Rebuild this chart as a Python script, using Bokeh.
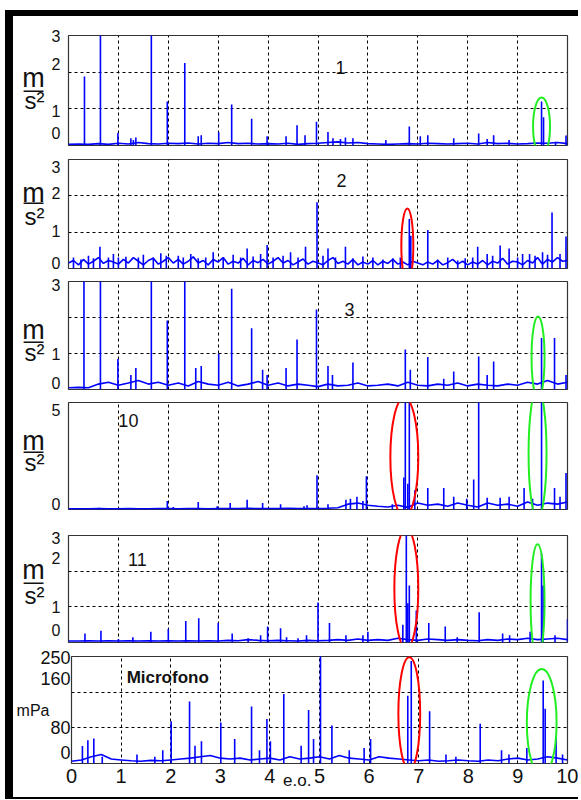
import numpy as np
from bokeh.plotting import figure
from bokeh.models import Range1d, FixedTicker, Label, Div, ColumnDataSource, LinearAxis
from bokeh.layouts import column, row
from bokeh.embed import file_html
from bokeh.resources import INLINE
from bokeh.core.properties import value

# ---------------- data ----------------
x_ticks = [0, 1, 2, 3, 4, 5, 6, 7, 8, 9, 10]
x_grid = [1, 2, 3, 4, 5, 6, 7, 8, 9]
x_title_pos = [4.55]
x_title_lab = ["e.o."]

# panel 1
p1_x = [0.32, 0.64, 0.99, 1.25, 1.3, 1.35, 1.66, 1.98, 2.33, 2.6, 2.66, 3.01, 3.27, 3.67, 3.98, 4.36,
        4.58, 4.74, 4.97, 5.2, 5.3, 5.45, 5.55, 5.7, 6.36, 6.83, 7.05, 7.2, 7.72, 8.22, 8.39, 8.52,
        8.83, 9.48, 9.52, 9.76, 9.97]
p1_y = [1.88, 3.5, 0.34, 0.2, 0.15, 0.22, 3.5, 1.2, 2.25, 0.25, 0.28, 0.36, 1.12, 0.73, 0.25, 0.25,
        0.55, 0.28, 0.65, 0.37, 0.2, 0.18, 0.22, 0.2, 0.15, 0.52, 0.25, 0.28, 0.2, 0.33, 0.18, 0.28,
        0.15, 1.2, 0.77, 0.1, 0.27]
p1_noise = [0.03, 0.04, 0.03, 0.05, 0.03, 0.06, 0.04, 0.08, 0.05, 0.04,
            0.06, 0.05, 0.07, 0.04, 0.06, 0.05, 0.08, 0.05, 0.06, 0.04,
            0.05, 0.04, 0.06, 0.03, 0.05, 0.06, 0.08, 0.1, 0.07, 0.08,
            0.05, 0.04, 0.03, 0.04, 0.05, 0.04, 0.06, 0.05, 0.04, 0.05,
            0.06, 0.04, 0.08, 0.05, 0.06, 0.04, 0.05, 0.07, 0.06, 0.08, 0.05]
p1_tick_val = [0.33, 0.95, 2.23, 3.0]
p1_tick_lab = ["0", "1", "2", "3"]

# panel 2
p2_x = [0.63, 1.0, 1.96, 2.6, 3.58, 3.98, 4.75, 4.98, 5.2, 5.55, 6.83, 6.86, 7.2, 8.2, 8.39, 8.65,
        8.83, 9.24, 9.69, 9.97,
        0.1, 0.25, 0.4, 0.5, 0.8, 0.9, 1.15, 1.4, 1.5, 1.7, 1.85, 2.2, 2.3, 2.45, 2.75, 2.9,
        3.1, 3.3, 3.45, 3.7, 3.85, 4.1, 4.3, 4.45, 4.6, 5.1, 5.35, 5.7, 5.9, 6.1, 6.3, 6.5,
        6.65, 7.4, 7.6, 7.8, 7.95, 8.1, 8.5, 9.0, 9.1, 9.35, 9.5, 9.6, 9.85]
p2_y = [0.6, 0.3, 0.35, 0.28, 0.55, 0.65, 0.6, 1.82, 0.55, 0.6, 1.36, 0.9, 1.06, 0.6, 0.4, 0.63,
        0.55, 0.4, 1.54, 0.88,
        0.3, 0.25, 0.35, 0.28, 0.3, 0.4, 0.32, 0.3, 0.38, 0.3, 0.42, 0.35, 0.3, 0.4, 0.3, 0.45,
        0.3, 0.38, 0.3, 0.33, 0.4, 0.3, 0.35, 0.45, 0.3, 0.35, 0.3, 0.28, 0.33, 0.3, 0.25, 0.28,
        0.3, 0.25, 0.3, 0.22, 0.28, 0.3, 0.35, 0.3, 0.4, 0.35, 0.45, 0.38, 0.4]
p2_noise = [0.15, 0.22, 0.1, 0.25, 0.12, 0.2, 0.3, 0.14, 0.22, 0.18,
            0.12, 0.25, 0.15, 0.3, 0.2, 0.1, 0.22, 0.28, 0.12, 0.2,
            0.3, 0.15, 0.25, 0.12, 0.2, 0.32, 0.15, 0.22, 0.1, 0.25,
            0.18, 0.3, 0.12, 0.2, 0.15, 0.28, 0.1, 0.22, 0.16, 0.25,
            0.12, 0.2, 0.3, 0.15, 0.22, 0.1, 0.18, 0.26, 0.12, 0.2,
            0.15, 0.1, 0.22, 0.3, 0.14, 0.2, 0.12, 0.25, 0.1, 0.18,
            0.12, 0.22, 0.1, 0.2, 0.14, 0.25, 0.12, 0.18, 0.1, 0.2,
            0.15, 0.1, 0.18, 0.12, 0.22, 0.1, 0.16, 0.25, 0.12, 0.2,
            0.1, 0.18, 0.12, 0.22, 0.1, 0.2, 0.15, 0.28, 0.12, 0.2,
            0.18, 0.1, 0.22, 0.15, 0.3, 0.12, 0.25, 0.18, 0.3, 0.2, 0.22]
p2_tick_val = [0.14, 1.02, 2.07, 2.78]
p2_tick_lab = ["0", "1", "2", "3"]

# panel 3
p3_x = [0.31, 0.64, 0.99, 1.25, 1.35, 1.66, 1.98, 2.33, 2.55, 2.66, 3.01, 3.27, 3.67, 3.89, 3.98,
        4.36, 4.58, 4.97, 5.2, 5.29, 5.7, 6.75, 6.85, 7.2, 7.52, 7.72, 8.22, 8.39, 8.52, 9.48,
        9.74, 9.97]
p3_y = [3.5, 3.5, 0.85, 0.4, 0.6, 3.5, 1.92, 3.5, 0.6, 0.65, 0.99, 2.8, 1.7, 0.55, 0.4,
        0.6, 1.39, 2.22, 0.65, 0.4, 0.75, 1.11, 0.55, 0.9, 0.3, 0.5, 0.92, 0.4, 0.78, 1.43,
        1.43, 0.4]
p3_noise = [0.05, 0.06, 0.05, 0.15, 0.2, 0.12, 0.18, 0.25, 0.15, 0.2,
            0.12, 0.18, 0.1, 0.22, 0.15, 0.12, 0.2, 0.1, 0.15, 0.22,
            0.12, 0.18, 0.1, 0.15, 0.12, 0.08, 0.15, 0.1, 0.12, 0.18,
            0.1, 0.12, 0.15, 0.1, 0.2, 0.12, 0.1, 0.15, 0.12, 0.18,
            0.1, 0.15, 0.12, 0.1, 0.15, 0.12, 0.2, 0.15, 0.25, 0.15, 0.2]
p3_tick_val = [0.19, 1.0, 2.89]
p3_tick_lab = ["0", "1", "3"]

# panel 4 (channel 10)
p4_x = [0.62, 1.98, 2.1, 2.6, 2.98, 3.24, 3.58, 3.89, 4.25, 4.72, 4.78, 4.98, 5.2, 5.56, 5.65, 5.78,
        5.9, 5.97, 6.49, 6.72, 6.75, 6.8, 6.83, 6.94, 7.2, 7.52, 7.72, 7.98, 8.12, 8.22, 8.39, 8.65,
        8.83, 9.13, 9.3, 9.48, 9.74, 9.85, 9.97]
p4_y = [0.08, 0.4, 0.12, 0.35, 0.15, 0.3, 0.45, 0.3, 0.25, 0.15, 0.2, 1.6, 0.25, 0.45, 0.5, 0.6,
        0.4, 1.55, 0.25, 1.5, 6.0, 1.2, 6.0, 0.9, 1.0, 1.0, 0.6, 0.5, 1.4, 6.0, 0.55, 0.55,
        0.6, 1.0, 0.5, 6.0, 1.0, 0.6, 1.7]
p4_noise = [0.03, 0.03, 0.03, 0.04, 0.03, 0.03, 0.04, 0.03, 0.03, 0.04,
            0.05, 0.03, 0.04, 0.05, 0.03, 0.04, 0.05, 0.04, 0.06, 0.04,
            0.05, 0.04, 0.06, 0.05, 0.04, 0.05, 0.06, 0.08, 0.25, 0.3,
            0.2, 0.15, 0.12, 0.2, 0.1, 0.3, 0.2, 0.25, 0.15, 0.3,
            0.2, 0.12, 0.3, 0.2, 0.25, 0.15, 0.35, 0.2, 0.3, 0.25, 0.35]
p4_tick_val = [0.28, 4.63]
p4_tick_lab = ["0", "5"]

# panel 5 (channel 11)
p5_x = [0.33, 0.65, 1.0, 1.29, 1.65, 2.0, 2.35, 2.61, 3.0, 3.28, 3.6, 3.85, 3.99, 4.25, 4.37, 4.6,
        4.77, 5.0, 5.23, 5.56, 5.9, 6.0, 6.7, 6.77, 6.8, 6.83, 6.97, 7.22, 7.55, 7.79, 8.23, 8.7,
        8.84, 9.25, 9.48, 9.51, 9.75, 10.0]
p5_y = [0.25, 0.33, 0.1, 0.15, 0.3, 0.38, 0.6, 0.68, 0.55, 0.25, 0.12, 0.2, 0.45, 0.4, 0.15, 0.12,
        0.2, 1.12, 0.55, 0.2, 0.2, 0.3, 0.5, 3.5, 1.1, 1.6, 0.9, 0.55, 0.45, 0.15, 0.85, 0.25,
        0.2, 0.3, 2.5, 1.6, 0.2, 0.65]
p5_noise = [0.04, 0.04, 0.05, 0.04, 0.05, 0.04, 0.05, 0.04, 0.05, 0.04,
            0.05, 0.04, 0.05, 0.04, 0.05, 0.04, 0.06, 0.05, 0.08, 0.06,
            0.05, 0.06, 0.05, 0.04, 0.06, 0.05, 0.06, 0.08, 0.06, 0.1,
            0.06, 0.08, 0.06, 0.12, 0.08, 0.06, 0.1, 0.08, 0.06, 0.08,
            0.06, 0.05, 0.08, 0.06, 0.1, 0.08, 0.12, 0.08, 0.1, 0.12, 0.08]
p5_tick_val = [0.34, 1.0, 2.38, 2.94]
p5_tick_lab = ["0", "1", "2", "3"]

# panel 6 (microphone, mPa)
p6_x = [0.22, 0.33, 0.45, 0.62, 1.32, 1.68, 1.84, 2.01, 2.38, 2.49, 2.62, 3.01, 3.29, 3.63, 3.79,
        3.94, 4.01, 4.28, 4.63, 4.78, 4.88, 5.02, 5.25, 5.6, 5.9, 6.03, 6.78, 6.85, 7.22, 7.55,
        7.75, 8.24, 8.67, 8.82, 9.18, 9.51, 9.55, 9.77, 9.9]
p6_y = [39, 52, 56, 15, 20, 15, 30, 95, 139, 40, 50, 92, 55, 128, 30,
        100, 50, 156, 40, 120, 55, 260, 85, 30, 35, 55, 152, 230, 117, 20,
        15, 89, 30, 20, 35, 186, 123, 63, 20]
p6_noise = [5, 8, 15, 20, 10, 8, 6, 5, 7, 6,
            8, 10, 12, 15, 18, 12, 10, 12, 8, 10,
            12, 8, 15, 10, 12, 15, 10, 18, 12, 10,
            8, 15, 12, 10, 8, 6, 8, 5, 6, 8,
            6, 5, 8, 6, 10, 12, 8, 10, 15, 12, 8]
p6_tick_val = [25, 81, 190, 238]
p6_tick_lab = ["0", "80", "160", "250"]

# highlighted components (x, y, width, height, colour) per panel
ell_p1 = [(9.48, 0.52, 0.34, 1.58, "green")]
ell_p2 = [(6.79, 0.63, 0.24, 2.04, "red")]
ell_p3 = [(9.41, 0.89, 0.26, 2.28, "green")]
ell_p4 = [(6.73, 2.45, 0.56, 5.56, "red"), (9.40, 2.62, 0.36, 6.07, "green")]
ell_p5 = [(6.77, 1.51, 0.48, 3.36, "red"), (9.40, 1.15, 0.28, 3.22, "green")]
ell_p6 = [(6.81, 112, 0.44, 253, "red"), (9.48, 92, 0.60, 240, "green")]

# ---------------- style ----------------
FONT = "Liberation Sans"
BLUE = "#0000ff"
INK = "#111111"
ELL_COL = {"red": "#ff0000", "green": "#22ee22"}
W_ALL = 565     # from the left black bar (x=13) to the right edge (x=578)
W_UNIT = 35     # strip that holds the m/s^2 label
LEFT = 53       # distance from the black bar to the plot frame
RIGHT = 11

panels = [
    dict(x=p1_x, y=p1_y, noise=p1_noise, ymax=3, tv=p1_tick_val, tl=p1_tick_lab, ygrid=[1, 2],
         name="1", name_xy=(5.45, 2.13), unit=(1.83, 1.53, 1.23), ell=ell_p1, h=136, bt=19, bb=7),
    dict(x=p2_x, y=p2_y, noise=p2_noise, ymax=3, tv=p2_tick_val, tl=p2_tick_lab, ygrid=[1, 2],
         name="2", name_xy=(5.47, 2.42), unit=(2.09, 1.85, 1.43), ell=ell_p2, h=123, bt=7, bb=7),
    dict(x=p3_x, y=p3_y, noise=p3_noise, ymax=3, tv=p3_tick_val, tl=p3_tick_lab, ygrid=[1, 2],
         name="3", name_xy=(5.63, 2.22), unit=(1.64, 1.36, 1.03), ell=ell_p3, h=120, bt=6, bb=6),
    dict(x=p4_x, y=p4_y, noise=p4_noise, ymax=5, tv=p4_tick_val, tl=p4_tick_lab, ygrid=[],
         name="10", name_xy=(1.2, 4.16), unit=(3.22, 2.76, 2.2), ell=ell_p4, h=127, bt=7, bb=13),
    dict(x=p5_x, y=p5_y, noise=p5_noise, ymax=3, tv=p5_tick_val, tl=p5_tick_lab, ygrid=[1, 2],
         name="11", name_xy=(1.38, 2.32), unit=(2.02, 1.71, 1.32), ell=ell_p5, h=123, bt=13, bb=3),
    dict(x=p6_x, y=p6_y, noise=p6_noise, ymax=240, tv=p6_tick_val, tl=p6_tick_lab, ygrid=[80, 160],
         name="Microfono", name_xy=(1.94, 193), unit=None, ell=ell_p6, h=152, bt=11, bb=34),
]


def style_axis_labels(ax, size, standoff):
    ax.axis_line_color = None
    ax.major_tick_line_color = None
    ax.minor_tick_line_color = None
    ax.major_tick_out = 0
    ax.major_tick_in = 0
    ax.minor_tick_out = 0
    ax.minor_tick_in = 0
    ax.major_label_text_font = FONT
    ax.major_label_text_font_size = size
    ax.major_label_text_color = INK
    ax.major_label_standoff = standoff


def make_panel(cfg, last):
    yr = Range1d(0, cfg["ymax"])
    width = W_ALL if last else W_ALL - W_UNIT
    p = figure(width=width, height=cfg["h"], x_range=Range1d(0, 10), y_range=yr,
               output_backend="svg", toolbar_location=None,
               min_border_left=LEFT if last else LEFT - W_UNIT, min_border_right=RIGHT,
               min_border_top=cfg["bt"], min_border_bottom=cfg["bb"])
    p.background_fill_color = "white"
    p.border_fill_color = "white"
    p.outline_line_color = "#333333"
    p.outline_line_width = 1.2

    p.xgrid.ticker = FixedTicker(ticks=x_grid)
    p.xgrid.grid_line_color = "black"
    p.xgrid.grid_line_dash = "3 3"
    if cfg["ygrid"]:
        p.ygrid.ticker = FixedTicker(ticks=cfg["ygrid"])
        p.ygrid.grid_line_color = "black"
        p.ygrid.grid_line_dash = "3 3"
    else:
        p.ygrid.visible = False

    ya = p.yaxis[0]
    ya.ticker = FixedTicker(ticks=cfg["tv"])
    ya.major_label_overrides = {v: l for v, l in zip(cfg["tv"], cfg["tl"])}
    xa = p.xaxis[0]
    if last:
        style_axis_labels(ya, "18px", 1)
        ya.axis_label = "mPa"
        ya.axis_label_orientation = "horizontal"
        ya.axis_label_standoff = -12
        ya.axis_label_text_font = FONT
        ya.axis_label_text_font_size = "16px"
        ya.axis_label_text_font_style = "normal"
        ya.axis_label_text_color = INK

        xa.ticker = FixedTicker(ticks=x_ticks)
        style_axis_labels(xa, "20px", 5)

        # second, label-only axis carrying the "e.o." caption
        xt = LinearAxis(ticker=FixedTicker(ticks=x_title_pos),
                        major_label_overrides={v: l for v, l in zip(x_title_pos, x_title_lab)})
        style_axis_labels(xt, "17px", -15)
        p.add_layout(xt, "below")
    else:
        style_axis_labels(ya, "16px", 8)
        xa.visible = False

    # spectrum
    xs_noise = np.linspace(0, 10, len(cfg["noise"]))
    p.line(xs_noise, cfg["noise"], line_color=BLUE, line_width=1.6)
    src = ColumnDataSource(dict(x=cfg["x"], y=cfg["y"]))
    p.segment(x0="x", y0=0, x1="x", y1="y", source=src, line_color=BLUE, line_width=1.6)

    # highlighted components
    for ex, ey, ew, eh, ec in cfg["ell"]:
        p.ellipse(x=ex, y=ey, width=ew, height=eh, fill_color=None,
                  line_color=ELL_COL[ec], line_width=2)

    # channel name
    nx, ny = cfg["name_xy"]
    p.add_layout(Label(x=nx, y=ny, text=cfg["name"], text_font=FONT,
                       text_font_size="17px" if last else "18px",
                       text_font_style="bold" if last else "normal",
                       text_align="center", text_baseline="middle", text_color=INK))

    if last:
        return p

    # unit strip (m / s^2) sharing the panel's vertical scale
    u = figure(width=W_UNIT, height=cfg["h"], x_range=Range1d(0, 1), y_range=yr,
               output_backend="svg", toolbar_location=None,
               x_axis_location=None, y_axis_location=None,
               min_border_left=0, min_border_right=0,
               min_border_top=cfg["bt"], min_border_bottom=cfg["bb"])
    u.grid.visible = False
    u.outline_line_color = None
    u.background_fill_color = "white"
    u.border_fill_color = "white"
    ym, yb, ys = cfg["unit"]
    u.text(x=[0.57], y=[ym], text=["m"], text_font=value(FONT), text_font_size=value("27px"),
           text_align="center", text_baseline="middle", text_color=INK)
    u.text(x=[0.57], y=[yb], text=["\u2014"], text_font=value("DejaVu Sans"),
           text_font_size=value("22px"), text_align="center", text_baseline="middle",
           text_color=INK)
    u.text(x=[0.6], y=[ys], text=["s\u00b2"], text_font=value(FONT), text_font_size=value("24px"),
           text_align="center", text_baseline="middle", text_color=INK)
    return row(u, p, spacing=0)


rows = [make_panel(cfg, i == len(panels) - 1) for i, cfg in enumerate(panels)]

black = {"background-color": "black"}
left_space = Div(width=5, height=799, margin=0)
bar_gap = Div(width=8, height=10, margin=0)
left_bar = Div(width=8, height=789, styles=black, margin=0)
top_gap = Div(width=W_ALL, height=10, margin=0)
top_bar = Div(width=W_ALL, height=6, styles=black, margin=0)
bottom_bar = Div(width=W_ALL, height=2, styles=black, margin=0)

layout = row(left_space, column(bar_gap, left_bar, spacing=0),
             column(top_gap, top_bar, *rows, bottom_bar, spacing=0), spacing=0)

open("out.html", "w").write(file_html(layout, INLINE))
